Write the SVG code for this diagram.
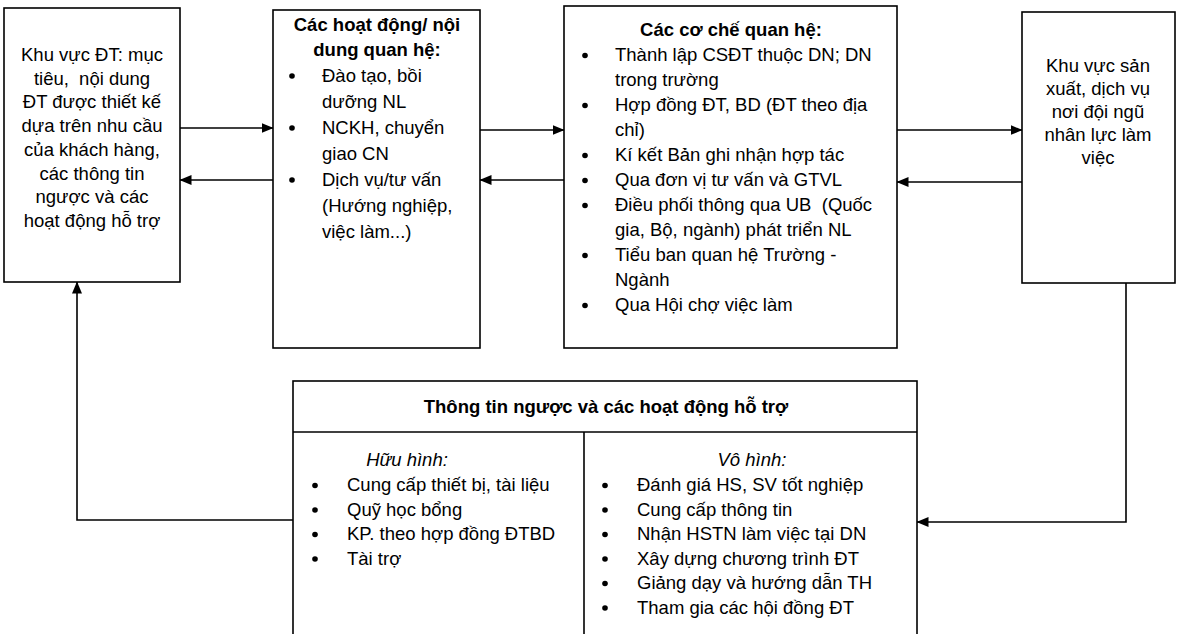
<svg xmlns="http://www.w3.org/2000/svg" width="1182" height="634" viewBox="0 0 1182 634">
<defs>
<style>
.box{fill:#fff;stroke:#000;stroke-width:1.6}
.ln{fill:none;stroke:#000;stroke-width:1.6}
text{font-family:"Liberation Sans",Arial,sans-serif;font-size:18.5px;fill:#000}
.c{text-anchor:middle}
.b{font-weight:bold}
.i{font-style:italic}
.dot{fill:#000}
</style>
<marker id="ah" viewBox="0 0 12 10" refX="11.5" refY="5" markerWidth="12" markerHeight="10" markerUnits="userSpaceOnUse" orient="auto">
<path d="M0,0 L12,5 L0,10 Z" fill="#000"/>
</marker>
</defs>
<rect width="1182" height="634" fill="#fff"/>

<g id="connectors">
<line class="ln" x1="180" y1="128" x2="273" y2="128" marker-end="url(#ah)"/>
<line class="ln" x1="273" y1="180" x2="180" y2="180" marker-end="url(#ah)"/>
<line class="ln" x1="480" y1="130" x2="564" y2="130" marker-end="url(#ah)"/>
<line class="ln" x1="564" y1="180" x2="480" y2="180" marker-end="url(#ah)"/>
<line class="ln" x1="897" y1="130" x2="1022" y2="130" marker-end="url(#ah)"/>
<line class="ln" x1="1022" y1="182" x2="897" y2="182" marker-end="url(#ah)"/>
<polyline class="ln" points="1126,283 1126,522 917,522" marker-end="url(#ah)"/>
<polyline class="ln" points="293,520 77,520 77,282" marker-end="url(#ah)"/>
</g>

<g id="box1">
<rect class="box" x="4" y="8" width="176" height="274"/>
<text class="c" x="92" y="61" xml:space="preserve">Khu vực ĐT: mục</text>
<text class="c" x="92" y="84.7" xml:space="preserve">tiêu,  nội dung</text>
<text class="c" x="92" y="108.4">ĐT được thiết kế</text>
<text class="c" x="92" y="132.1">dựa trên nhu cầu</text>
<text class="c" x="92" y="155.8">của khách hàng,</text>
<text class="c" x="92" y="179.5">các thông tin</text>
<text class="c" x="92" y="203.2">ngược và các</text>
<text class="c" x="92" y="226.9">hoạt động hỗ trợ</text>
</g>

<g id="box2">
<rect class="box" x="273" y="10" width="207" height="338"/>
<text class="c b" x="377" y="31">Các hoạt động/ nội</text>
<text class="c b" x="377" y="56">dung quan hệ:</text>
<circle class="dot" cx="292" cy="76" r="2.8"/>
<text x="322" y="81.5">Đào tạo, bồi</text>
<text x="322" y="107.5">dưỡng NL</text>
<circle class="dot" cx="292" cy="128" r="2.8"/>
<text x="322" y="133.5">NCKH, chuyển</text>
<text x="322" y="159.5">giao CN</text>
<circle class="dot" cx="292" cy="180" r="2.8"/>
<text x="322" y="185.5">Dịch vụ/tư vấn</text>
<text x="322" y="211.5">(Hướng nghiệp,</text>
<text x="322" y="237.5">việc làm...)</text>
</g>

<g id="box3">
<rect class="box" x="564" y="6" width="333" height="342"/>
<text class="c b" x="731" y="36">Các cơ chế quan hệ:</text>
<circle class="dot" cx="585" cy="55.5" r="2.8"/>
<text x="615" y="61">Thành lập CSĐT thuộc DN; DN</text>
<text x="615" y="86">trong trường</text>
<circle class="dot" cx="585" cy="105.5" r="2.8"/>
<text x="615" y="111">Hợp đồng ĐT, BD (ĐT theo địa</text>
<text x="615" y="136">chỉ)</text>
<circle class="dot" cx="585" cy="155.5" r="2.8"/>
<text x="615" y="161">Kí kết Bản ghi nhận hợp tác</text>
<circle class="dot" cx="585" cy="180.5" r="2.8"/>
<text x="615" y="186">Qua đơn vị tư vấn và GTVL</text>
<circle class="dot" cx="585" cy="205.5" r="2.8"/>
<text x="615" y="211" xml:space="preserve">Điều phối thông qua UB  (Quốc</text>
<text x="615" y="236">gia, Bộ, ngành) phát triển NL</text>
<circle class="dot" cx="585" cy="255.5" r="2.8"/>
<text x="615" y="261">Tiểu ban quan hệ Trường -</text>
<text x="615" y="286">Ngành</text>
<circle class="dot" cx="585" cy="305.5" r="2.8"/>
<text x="615" y="311">Qua Hội chợ việc làm</text>
</g>

<g id="box4">
<rect class="box" x="1022" y="12" width="153" height="271"/>
<text class="c" x="1098" y="72">Khu vực sản</text>
<text class="c" x="1098" y="95">xuất, dịch vụ</text>
<text class="c" x="1098" y="118">nơi đội ngũ</text>
<text class="c" x="1098" y="141">nhân lực làm</text>
<text class="c" x="1098" y="164">việc</text>
</g>

<g id="box5">
<rect class="box" x="293" y="381" width="624" height="270"/>
<line class="ln" x1="293" y1="432" x2="917" y2="432"/>
<line class="ln" x1="584" y1="432" x2="584" y2="640"/>
<text class="c b" x="606" y="413">Thông tin ngược và các hoạt động hỗ trợ</text>
<text class="c i" x="407" y="466">Hữu hình:</text>
<circle class="dot" cx="315" cy="485.5" r="2.8"/>
<text x="347" y="491">Cung cấp thiết bị, tài liệu</text>
<circle class="dot" cx="315" cy="510" r="2.8"/>
<text x="347" y="515.5">Quỹ học bổng</text>
<circle class="dot" cx="315" cy="534.5" r="2.8"/>
<text x="347" y="540">KP. theo hợp đồng ĐTBD</text>
<circle class="dot" cx="315" cy="559" r="2.8"/>
<text x="347" y="564.5">Tài trợ</text>
<text class="c i" x="752" y="466">Vô hình:</text>
<circle class="dot" cx="605" cy="485.5" r="2.8"/>
<text x="637" y="491">Đánh giá HS, SV tốt nghiệp</text>
<circle class="dot" cx="605" cy="510" r="2.8"/>
<text x="637" y="515.5">Cung cấp thông tin</text>
<circle class="dot" cx="605" cy="534.5" r="2.8"/>
<text x="637" y="540">Nhận HSTN làm việc tại DN</text>
<circle class="dot" cx="605" cy="559" r="2.8"/>
<text x="637" y="564.5">Xây dựng chương trình ĐT</text>
<circle class="dot" cx="605" cy="583.5" r="2.8"/>
<text x="637" y="589">Giảng dạy và hướng dẫn TH</text>
<circle class="dot" cx="605" cy="608" r="2.8"/>
<text x="637" y="613.5">Tham gia các hội đồng ĐT</text>
</g>
</svg>
